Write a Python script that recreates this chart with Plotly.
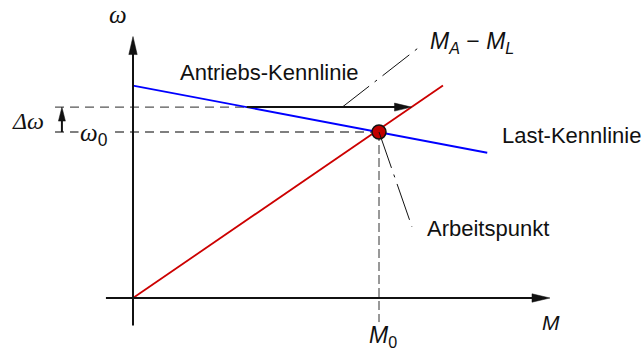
import numpy as np
import plotly.graph_objects as go

W, H = 643, 350
# pixels per unit along M and omega, and the pixel position of the origin
SX, SY = 246.0, 166.0
OX, OY = 133.0, 298.0

# drive characteristic (red) and load characteristic (blue), normalised units
drive_M = [0.0, 1.26]
drive_w = [0.0, 1.28]
load_M = [0.0, 1.44]
load_w = [1.28, 0.875]

# operating point and the raised speed level omega0 + delta omega
M0, w0 = 1.0, 1.0
w1 = 1.15

# extent of the axes and guide lines
axis_M = [-0.11, 1.695]
axis_w = [-0.165, 1.575]
guide_left_M = -0.317
drop_bottom_w = -0.145
delta_arrow_M = -0.289

SANS = "Liberation Sans"
SERIF = "Liberation Serif"
INK = "#111111"


def to_px(m, w):
    return OX + m * SX, OY - w * SY


def to_data(px, py):
    return (px - OX) / SX, (OY - py) / SY


def head_path(m, w, dm, dw, length=18.0, half=4.2):
    """Filled arrow head with its tip at (m, w), pointing along (dm, dw)."""
    tx, ty = to_px(m, w)
    vx, vy = dm * SX, -dw * SY
    n = np.hypot(vx, vy)
    vx, vy = vx / n, vy / n
    bx, by = tx - vx * length, ty - vy * length
    px_, py_ = -vy, vx
    pts = [(tx, ty), (bx + px_ * half, by + py_ * half), (bx - px_ * half, by - py_ * half)]
    d = [to_data(x, y) for x, y in pts]
    return "M {:.5f},{:.5f} L {:.5f},{:.5f} L {:.5f},{:.5f} Z".format(*d[0], *d[1], *d[2])


def short_of(m, w, dm, dw, length):
    """Point `length` pixels back from (m, w) against the direction (dm, dw)."""
    vx, vy = dm * SX, -dw * SY
    n = np.hypot(vx, vy)
    tx, ty = to_px(m, w)
    return to_data(tx - vx / n * length, ty - vy / n * length)


def offset(m, w, dx, dy):
    px, py = to_px(m, w)
    return to_data(px + dx, py + dy)


# speed level crossings of the two characteristics
M_load_w1 = float(np.interp(w1, load_w[::-1], load_M[::-1]))
M_drive_w1 = float(np.interp(w1, drive_w, drive_M))

shapes = []


def line(x0, y0, x1, y1, color=INK, width=1.0, dash="solid", layer="above"):
    shapes.append(dict(type="line", x0=x0, y0=y0, x1=x1, y1=y1, layer=layer,
                       line=dict(color=color, width=width, dash=dash)))


def head(m, w, dm, dw, **kw):
    shapes.append(dict(type="path", path=head_path(m, w, dm, dw, **kw),
                       fillcolor=INK, line=dict(color=INK, width=0.5)))


# dashed guide lines
line(guide_left_M, w0, M0, w0, color="#555555", width=1.3, dash="9px,6px", layer="below")
line(guide_left_M, w1, M_load_w1, w1, color="#555555", width=1.3, dash="9px,6px", layer="below")
line(M0, w0, M0, drop_bottom_w, color="#333333", width=1.0, dash="9px,4px", layer="below")

# coordinate axes with arrow heads
xe = short_of(axis_M[1], 0, 1, 0, 10)
line(axis_M[0], 0, xe[0], 0, width=2)
head(axis_M[1], 0, 1, 0)
ye = short_of(0, axis_w[1], 0, 1, 10)
line(0, axis_w[0], 0, ye[1], width=2)
head(0, axis_w[1], 0, 1)

# torque difference arrow at the raised speed
ae = short_of(M_drive_w1, w1, 1, 0, 10)
line(M_load_w1, w1, ae[0], w1, width=2)
head(M_drive_w1, w1, 1, 0, length=17, half=4)

# delta omega arrow
de = short_of(delta_arrow_M, w1, 0, 1, 8)
line(delta_arrow_M, w0, delta_arrow_M, de[1], width=2)
head(delta_arrow_M, w1, 0, 1, length=14, half=3.5)

# leader lines
la0 = (M_load_w1 + (M_drive_w1 - M_load_w1) * 0.58, w1)
la1 = offset(*la0, 77, -60)
line(la0[0], la0[1], la1[0], la1[1], width=1, dash="34px,7px,3px,7px")
lb1 = offset(M0, w0, 33, 95)
line(M0, w0, lb1[0], lb1[1], width=1, dash="38px,7px,3px,7px")

fig = go.Figure()
fig.add_trace(go.Scatter(x=drive_M, y=drive_w, mode="lines",
                         line=dict(color="#cc0000", width=1.8), hoverinfo="skip"))
fig.add_trace(go.Scatter(x=load_M, y=load_w, mode="lines",
                         line=dict(color="#0000ff", width=1.8), hoverinfo="skip"))
fig.add_trace(go.Scatter(x=[M0], y=[w0], mode="markers",
                         marker=dict(size=14, color="#c00000", line=dict(color=INK, width=1.5)),
                         hoverinfo="skip"))

annotations = []


def text(m, w, s, size=22, family=SANS, xanchor="center", bg=None, dx=0, dy=0):
    a = dict(x=m, y=w, text=s, showarrow=False, xanchor=xanchor, yanchor="middle",
             xshift=dx, yshift=dy, font=dict(family=family, size=size, color=INK))
    if bg:
        a["bgcolor"] = bg
    annotations.append(a)


def at(px, py):
    return to_data(px, py)


text(*at(269, 72), "Antriebs-Kennlinie")
text(load_M[1], load_w[1], "Last-Kennlinie", xanchor="left", dx=13, dy=17)
text(lb1[0], lb1[1], "Arbeitspunkt", xanchor="left", dx=13, dy=-1)
text(la1[0], la1[1], "<i>M</i><sub><i>A</i></sub> − <i>M</i><sub><i>L</i></sub>",
     xanchor="left", size=23, dx=9, dy=5)
text(0, axis_w[1], "<i>ω</i>", family=SERIF, size=25, dx=-15, dy=22)
text(axis_M[1], 0, "<i>M</i>", size=21, dx=1, dy=-24)
text(M0, drop_bottom_w, "<i>M</i><sub>0</sub>", size=23, dx=4, dy=-14)
text(delta_arrow_M, (w0 + w1) / 2, "<i>Δω</i>", family=SERIF, size=24, xanchor="right", dx=-16, dy=-1)
text(*at(94, 134), "<span style='font-family:Liberation Serif'><i>ω</i></span><sub>0</sub>",
     size=25, bg="white")

fig.update_layout(
    width=W, height=H,
    margin=dict(l=0, r=0, t=0, b=0),
    paper_bgcolor="white", plot_bgcolor="white",
    showlegend=False,
    xaxis=dict(range=[-OX / SX, (W - OX) / SX], visible=False, fixedrange=True),
    yaxis=dict(range=[(OY - H) / SY, OY / SY], visible=False, fixedrange=True),
    shapes=shapes, annotations=annotations,
)

fig.write_html("out.html", config={"displayModeBar": False})
